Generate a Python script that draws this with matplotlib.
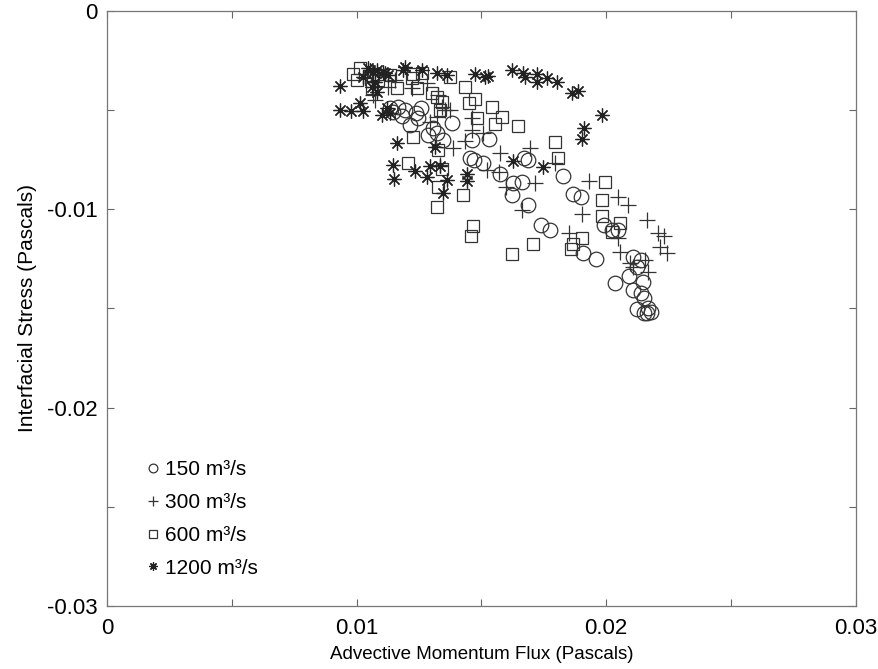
import matplotlib
matplotlib.use("Agg")
import matplotlib.pyplot as plt
from matplotlib.ticker import FixedLocator, FixedFormatter

plt.rcParams['font.family'] = ['Liberation Sans', 'DejaVu Sans']

# 150 m3/s (circles)
x150 = [0.01134, 0.01146, 0.01166, 0.01182, 0.01194, 0.01214, 0.01238, 0.01246, 0.01259, 0.01287,
        0.01307, 0.01323, 0.01347, 0.01383, 0.01463, 0.01455, 0.01471, 0.01507, 0.01531, 0.01575,
        0.01627, 0.01663, 0.01623, 0.01671, 0.01687, 0.01687, 0.01739, 0.01776, 0.01828, 0.01868,
        0.01900, 0.01908, 0.01960, 0.01992, 0.02024, 0.02048, 0.02036, 0.02108, 0.02140, 0.02124,
        0.02092, 0.02148, 0.02108, 0.02140, 0.02152, 0.02124, 0.02168, 0.02164, 0.02180, 0.02152]
y150 = [-0.00489, -0.00509, -0.00484, -0.00529, -0.00499, -0.00575, -0.00514, -0.00540, -0.00489, -0.00625,
        -0.00590, -0.00615, -0.00650, -0.00565, -0.00650, -0.00741, -0.00751, -0.00766, -0.00645, -0.00822,
        -0.00867, -0.00862, -0.00928, -0.00741, -0.00751, -0.00978, -0.01079, -0.01104, -0.00832, -0.00923,
        -0.00938, -0.01220, -0.01250, -0.01079, -0.01104, -0.01104, -0.01371, -0.01240, -0.01255, -0.01291,
        -0.01336, -0.01366, -0.01407, -0.01422, -0.01447, -0.01503, -0.01497, -0.01523, -0.01518, -0.01523]

# 300 m3/s (plus)
x300 = [0.01283, 0.01327, 0.01074, 0.01355, 0.01295, 0.01323, 0.01375, 0.01463, 0.01463, 0.01507,
        0.01435, 0.01387, 0.01575, 0.01695, 0.01796, 0.01715, 0.01523, 0.01571, 0.01599, 0.01663,
        0.01932, 0.02048, 0.02088, 0.01904, 0.01852, 0.02048, 0.02056, 0.02096, 0.02108, 0.02168,
        0.02156, 0.02164, 0.02208, 0.02232, 0.02216, 0.02244, 0.01066, 0.01126, 0.01343, 0.01335,
        0.01034, 0.01086, 0.01154, 0.01222]
y300 = [-0.00363, -0.00424, -0.00449, -0.00499, -0.00560, -0.00534, -0.00499, -0.00540, -0.00600, -0.00615,
        -0.00655, -0.00691, -0.00716, -0.00691, -0.00766, -0.00867, -0.00802, -0.00812, -0.00887, -0.01003,
        -0.00857, -0.00938, -0.00978, -0.01024, -0.01119, -0.01145, -0.01215, -0.01271, -0.01291, -0.01316,
        -0.01255, -0.01054, -0.01119, -0.01134, -0.01190, -0.01220, -0.00424, -0.00383, -0.00484, -0.00776,
        -0.00338, -0.00348, -0.00348, -0.00388]

# 600 m3/s (squares)
x600 = [0.01014, 0.00986, 0.01002, 0.01066, 0.01086, 0.01062, 0.01134, 0.01162, 0.01226, 0.01242,
        0.01263, 0.01222, 0.01375, 0.01435, 0.01303, 0.01323, 0.01343, 0.01335, 0.01475, 0.01451,
        0.01543, 0.01583, 0.01483, 0.01555, 0.01647, 0.01226, 0.01327, 0.01206, 0.01343, 0.01327,
        0.01427, 0.01323, 0.01467, 0.01459, 0.01623, 0.01707, 0.01796, 0.01808, 0.01996, 0.01984,
        0.01984, 0.02056, 0.01904, 0.01868, 0.01860, 0.02024]
y600 = [-0.00287, -0.00318, -0.00348, -0.00323, -0.00348, -0.00388, -0.00323, -0.00388, -0.00318, -0.00388,
        -0.00313, -0.00338, -0.00333, -0.00383, -0.00413, -0.00434, -0.00459, -0.00499, -0.00444, -0.00464,
        -0.00484, -0.00534, -0.00540, -0.00570, -0.00580, -0.00635, -0.00701, -0.00766, -0.00797, -0.00887,
        -0.00928, -0.00988, -0.01084, -0.01134, -0.01225, -0.01175, -0.00660, -0.00741, -0.00862, -0.00953,
        -0.01034, -0.01069, -0.01145, -0.01175, -0.01200, -0.01114]

# 1200 m3/s (asterisks)
x1200 = [0.00934, 0.00934, 0.00978, 0.01026, 0.01014, 0.01046, 0.01082, 0.01114, 0.01126, 0.01194,
         0.01186, 0.01263, 0.01323, 0.01363, 0.01475, 0.01515, 0.01527, 0.01623, 0.01667, 0.01675,
         0.01723, 0.01723, 0.01764, 0.01804, 0.01864, 0.01888, 0.01984, 0.01912, 0.01904, 0.01747,
         0.01627, 0.01162, 0.01146, 0.01150, 0.01234, 0.01283, 0.01295, 0.01335, 0.01363, 0.01443,
         0.01443, 0.01347, 0.01315, 0.01082, 0.01074, 0.01062, 0.01102, 0.01122, 0.01134, 0.01026,
         0.01054, 0.01066, 0.01106]
y1200 = [-0.00378, -0.00499, -0.00504, -0.00504, -0.00464, -0.00287, -0.00297, -0.00313, -0.00323, -0.00282,
         -0.00297, -0.00297, -0.00313, -0.00323, -0.00318, -0.00333, -0.00328, -0.00297, -0.00313, -0.00333,
         -0.00318, -0.00358, -0.00338, -0.00358, -0.00413, -0.00403, -0.00524, -0.00590, -0.00645, -0.00787,
         -0.00756, -0.00666, -0.00776, -0.00847, -0.00807, -0.00837, -0.00781, -0.00781, -0.00852, -0.00822,
         -0.00857, -0.00918, -0.00686, -0.00408, -0.00358, -0.00383, -0.00524, -0.00489, -0.00514, -0.00333,
         -0.00297, -0.00308, -0.00308]

labels = ["150 m\u00b3/s", "300 m\u00b3/s", "600 m\u00b3/s", "1200 m\u00b3/s"]

xticks = [0, 0.005, 0.01, 0.015, 0.02, 0.025, 0.03]
xticklabels = ["0", "", "0.01", "", "0.02", "", "0.03"]
yticks = [0, -0.005, -0.01, -0.015, -0.02, -0.025, -0.03]
yticklabels = ["0", "", "-0.01", "", "-0.02", "", "-0.03"]

fig = plt.figure(figsize=(8.79, 6.69), dpi=100)
ax = fig.add_axes([0.1217, 0.0942, 0.852, 0.8894])

ec = '#333333'
ax.plot(x150, y150, linestyle='none', marker='o', markersize=10.5, markerfacecolor='none',
        markeredgecolor=ec, markeredgewidth=0.9, label=labels[0])
ax.plot(x300, y300, linestyle='none', marker='+', markersize=11, color=ec,
        markeredgewidth=0.9, label=labels[1])
ax.plot(x600, y600, linestyle='none', marker='s', markersize=9, markerfacecolor='none',
        markeredgecolor=ec, markeredgewidth=0.9, label=labels[2])
ax.plot(x1200, y1200, linestyle='none', marker=(8, 2, 0), markersize=10, color='#222222',
        markeredgewidth=0.9, label=labels[3])

ax.set_xlim(0, 0.03)
ax.set_ylim(-0.03, 0)
ax.xaxis.set_major_locator(FixedLocator(xticks))
ax.xaxis.set_major_formatter(FixedFormatter(xticklabels))
ax.yaxis.set_major_locator(FixedLocator(yticks))
ax.yaxis.set_major_formatter(FixedFormatter(yticklabels))
ax.tick_params(direction='in', length=5, width=0.8, color='#666666', labelsize=16,
               top=True, right=True)
ax.tick_params(axis='x', pad=9)
ax.tick_params(axis='y', pad=7)
for sp in ax.spines.values():
    sp.set_color('#777777')
    sp.set_linewidth(0.9)

ax.set_xlabel("Advective Momentum Flux (Pascals)", fontsize=13.5, labelpad=5)
ax.set_ylabel("Interfacial Stress (Pascals)", fontsize=15, labelpad=7)

leg = ax.legend(loc='lower left', bbox_to_anchor=(0.028, 0.016), frameon=False,
                markerscale=0.6, handlelength=0.6, handletextpad=0.3,
                labelspacing=0.66, fontsize=15)

fig.savefig("out.png", dpi=100)
